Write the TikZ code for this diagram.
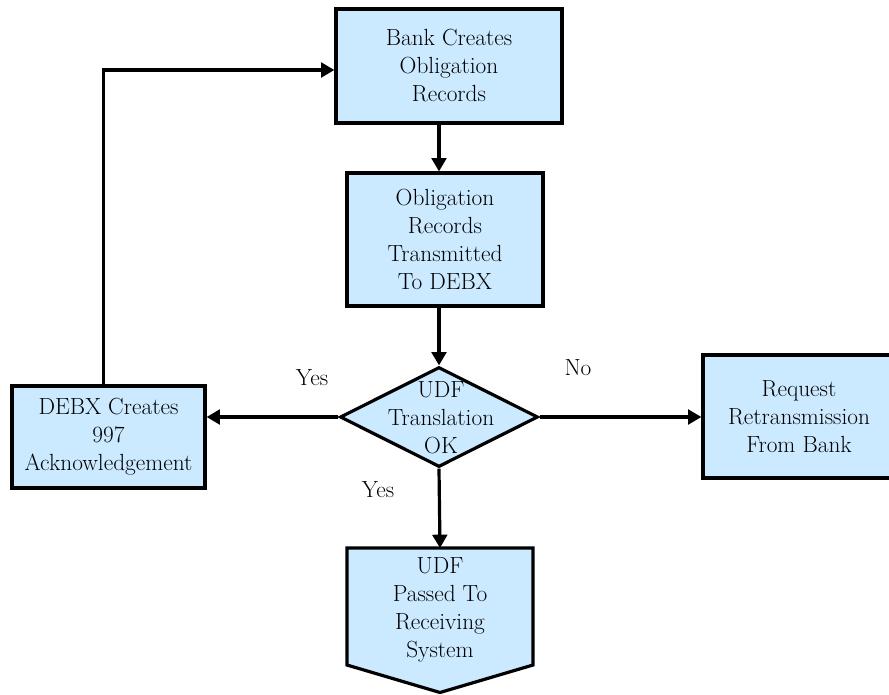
\documentclass[tikz,border=0pt]{standalone}
\usetikzlibrary{arrows.meta,shapes.geometric}
\definecolor{boxfill}{RGB}{204,234,255}
\begin{document}
\begin{tikzpicture}[x=0.75pt,y=-0.75pt,
  txt/.style={font=\rmfamily\fontsize{17.5}{21}\selectfont, align=center, inner sep=0pt},
  procbox/.style={draw=black, fill=boxfill, line width=2.4pt, inner sep=0pt},
  flow/.style={line width=2.4pt, -{Triangle[length=10pt,width=11pt]}},
  lbl/.style={font=\rmfamily\fontsize{17.5}{21}\selectfont, inner sep=0pt}]
\useasboundingbox (0,0) rectangle (889,694);

% process boxes
\node[procbox, minimum width=169.5pt, minimum height=85.5pt] (bank) at (449,66) {};
\node[txt] at (bank) {Bank Creates\\Obligation\\Records};

\node[procbox, minimum width=147pt, minimum height=99.75pt] (trans) at (445,239.5) {};
\node[txt] at (trans) {Obligation\\Records\\Transmitted\\To DEBX};

\node[procbox, minimum width=144.75pt, minimum height=76.5pt] (debx) at (108.5,437) {};
\node[txt] at (debx) {DEBX Creates\\997\\Acknowledgement};

\node[procbox, minimum width=144pt, minimum height=92.25pt] (req) at (799,416.5) {};
\node[txt] at (req) {Request\\Retransmission\\From Bank};

% decision
\node[procbox, diamond, minimum width=148.5pt, minimum height=75pt] (dec) at (439,417) {};
\node[txt] at (441,418) {UDF\\Translation\\OK};

% off-page connector shape
\coordinate (recv) at (440,548);
\draw[procbox, line join=miter] (347,548) -- (533,548) -- (533,665) -- (440,692.5) -- (347,665) -- cycle;
\node[txt] at (440,610) {UDF\\Passed To\\Receiving\\System};

% connectors
\draw[flow] (bank.south -| dec.north) -- (trans.north -| dec.north);
\draw[flow] (trans.south -| dec.north) -- (dec.north);
\draw[flow] (dec.west) -- (debx.east |- dec.west);
\draw[flow] (dec.east) -- (req.west |- dec.east);
\draw[flow] (dec.south) -- (recv);
\draw[flow] ([xshift=-4pt]debx.north) |- ([yshift=-3pt]bank.west);

% branch labels
\node[lbl] at (312,378) {Yes};
\node[lbl] at (578,368) {No};
\node[lbl] at (378,490) {Yes};
\end{tikzpicture}
\end{document}
